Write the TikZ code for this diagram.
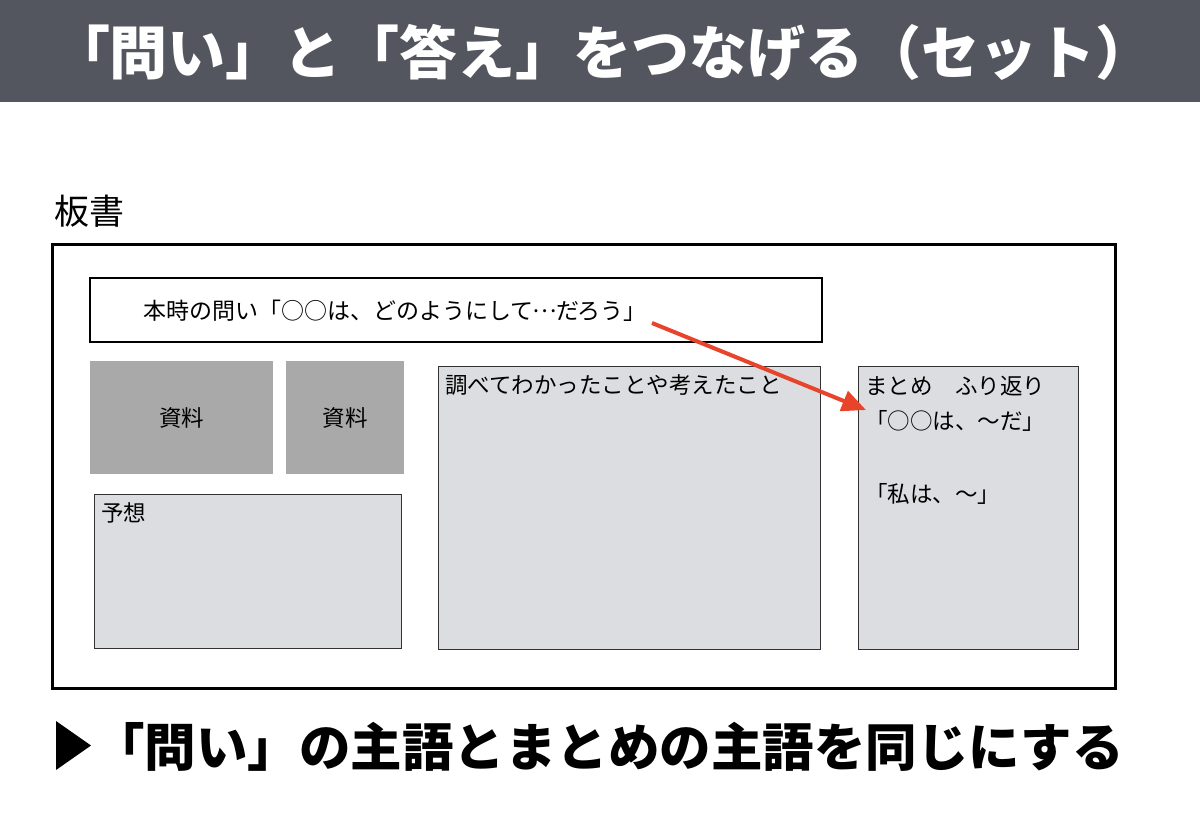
\documentclass[tikz,border=0pt]{standalone}
\usepackage{fontspec}
\setmainfont{Noto Sans CJK JP}
\usetikzlibrary{arrows.meta}
\definecolor{barcol}{RGB}{83,86,94}
\definecolor{matcol}{RGB}{169,169,169}
\definecolor{boxcol}{RGB}{220,221,224}
\definecolor{edgecol}{RGB}{50,50,50}
\definecolor{arrcol}{RGB}{232,68,43}
\newcommand{\fs}[1]{\fontsize{#1pt}{#1pt}\selectfont}
\newcommand{\midell}{\makebox[1em]{\raisebox{0.3em}{…}}}
\tikzset{
  panel/.style={draw=edgecol, line width=1pt, fill=boxcol, inner sep=0pt, outer sep=0pt},
  matbox/.style={fill=matcol, inner sep=0pt, outer sep=0pt},
  txt/.style={inner sep=0pt, outer sep=0pt, anchor=base west, font=\fs{22.5}},
  redarrow/.style={draw=arrcol, line width=4pt, -{Triangle[length=24pt,width=21pt]}}
}
\begin{document}
\begin{tikzpicture}[x=1pt,y=-1pt]
\useasboundingbox (0,0) rectangle (1200,814);
\fill[white] (0,0) rectangle (1200,814);
% title bar
\node[fill=barcol, minimum width=1200pt, minimum height=102pt, inner sep=0pt, outer sep=0pt, anchor=north west] (bar) at (0,0) {};
\node[text=white, inner sep=0pt, anchor=base, font=\fs{58}\bfseries] (title) at (603,74) {「問い」と「答え」をつなげる（セット）};
% label
\node[inner sep=0pt, anchor=base west, font=\fs{35}] (bansho) at (54,224) {板書};
% outer board
\node[draw=black, line width=3pt, minimum width=1063pt, minimum height=444pt, inner sep=0pt, outer sep=0pt] (board) at (583.5,466) {};
% question box
\node[draw=black, line width=2pt, fill=white, minimum width=732pt, minimum height=64pt, inner sep=0pt, outer sep=0pt] (qbox) at (456,310) {};
\node[txt, font=\fs{23}] (qtext) at (143,319.5) {本時の問い「○○は、どのようにして\midell だろう」};
% materials
\node[matbox, minimum width=183pt, minimum height=113pt, font=\fs{22.5}] (mat1) at (181.5,417.5) {資料};
\node[matbox, minimum width=118pt, minimum height=113pt, font=\fs{22.5}] (mat2) at (345,417.5) {資料};
% prediction
\node[panel, minimum width=307pt, minimum height=154pt] (yoso) at (247.5,571) {};
\node[txt] (yosotext) at (101,521.5) {予想};
% findings
\node[panel, minimum width=382pt, minimum height=283pt] (find) at (629,507.5) {};
\node[txt] (findtext) at (445,393) {調べてわかったことや考えたこと};
% summary
\node[panel, minimum width=220pt, minimum height=283pt] (sum) at (968,507.5) {};
\node[txt] (sumtext) at (865,394) {まとめ　ふり返り};
\node[txt] (sum1) at (865,429.5) {「○○は、〜だ」};
\node[txt] (sum2) at (865,502) {「私は、〜」};
% arrow
\coordinate (arrS) at (652,323);
\coordinate (arrE) at (866,410);
\draw[redarrow] (arrS) -- (arrE);
% bottom message
\fill[black] (56,721) -- (91,745.5) -- (56,770) -- cycle;
\node[inner sep=0pt, anchor=base west, font=\fs{51.5}\bfseries] (msg) at (93,766) {「問い」の主語とまとめの主語を同じにする};
\end{tikzpicture}
\end{document}
